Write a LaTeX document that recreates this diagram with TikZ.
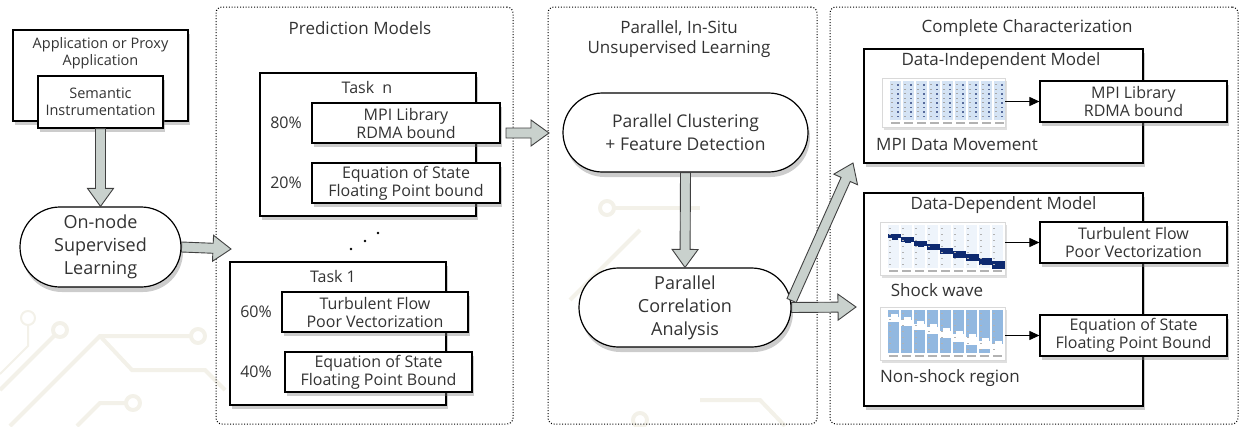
\documentclass[tikz,border=0pt]{standalone}
\usepackage{fontspec}
\setmainfont{Open Sans}
\usetikzlibrary{shapes.misc,shadows,calc,arrows.meta}
\definecolor{arrowgrey}{RGB}{201,209,205}
\definecolor{trace}{RGB}{243,241,233}
\definecolor{navy}{RGB}{14,42,112}
\definecolor{pale}{RGB}{238,244,251}
\definecolor{lightblue}{RGB}{212,227,244}
\definecolor{midblue}{RGB}{146,184,224}

% block arrow between two named points
\newcommand{\fatarrow}[2]{%
  \path ($(#2)!18pt!(#1)$) coordinate (fa head);
  \filldraw[fatline] ($(#1)!5pt!90:(#2)$) -- ($(fa head)!5pt!90:(#2)$)
    -- ($(fa head)!13pt!90:(#2)$) -- (#2) -- ($(fa head)!13pt!-90:(#2)$)
    -- ($(fa head)!5pt!-90:(#2)$) -- ($(#1)!5pt!-90:(#2)$) -- cycle;}

\begin{document}
\begin{tikzpicture}[x=1pt,y=-1pt,
  every node/.style={text=black!80},
  box/.style={draw=black, line width=1.2pt, fill=white, align=center, inner sep=0pt,
    font=\fontsize{16}{18}\selectfont,
    drop shadow={shadow xshift=2pt, shadow yshift=-4pt, opacity=0.4}},
  pill/.style={rounded rectangle, draw=black, line width=1.2pt, fill=white, align=center,
    inner sep=2pt, font=\fontsize{18}{23}\selectfont,
    drop shadow={shadow xshift=2pt, shadow yshift=-5pt, opacity=0.4}},
  group/.style={draw=black, line width=1pt, dash pattern=on 1pt off 1.8pt,
    rounded corners=6pt, inner sep=0pt},
  title/.style={font=\fontsize{17}{20}\selectfont, align=center},
  pct/.style={font=\fontsize{16}{18}\selectfont},
  fatline/.style={fill=arrowgrey, draw=black!75, line width=0.9pt},
  thinarrow/.style={draw=black, line width=1pt, -{Triangle[length=10pt,width=9pt]}},
  tracepath/.style={draw=trace, line width=4pt},
  thumb/.style={draw=black!15, fill=white, inner sep=0pt,
    drop shadow={shadow xshift=2pt, shadow yshift=-3pt, opacity=0.25}},
  mdm/.style={thumb, minimum width=123pt, minimum height=49pt,
    path picture={
      \coordinate (o) at (path picture bounding box.north west);
      \foreach \i in {0,...,8} {
        \fill[lightblue] ($(o)+(8+\i*13,3)$) rectangle ++(11,39);
        \foreach \j in {0,...,7} {
          \fill[navy!70] ($(o)+(15+\i*13,6+\j*4.5)$) rectangle ++(2,1.5);
          \fill[black!35] ($(o)+(9+\i*13,6+\j*4.5)$) rectangle ++(2,1);
        }
        \fill[black!30] ($(o)+(9+\i*13,44)$) rectangle ++(9,2);
      }}},
  shock/.style={thumb, minimum width=125pt, minimum height=53pt,
    path picture={
      \coordinate (o) at (path picture bounding box.north west);
      \foreach \i in {0,...,8} {
        \fill[pale] ($(o)+(8+\i*13,3)$) rectangle ++(11,43);
        \fill[navy] ($(o)+(8+\i*13,12+\i*3.4)$) rectangle ++(13,4+\i*0.5);
        \fill[navy] ($(o)+(12+\i*13,15+\i*3.4)$) rectangle ++(6,3);
        \foreach \j in {0,...,6}
          \fill[black!30] ($(o)+(9+\i*13,6+\j*6)$) rectangle ++(2,1);
        \fill[black!30] ($(o)+(9+\i*13,48)$) rectangle ++(9,2);
      }}},
  nonshock/.style={thumb, minimum width=125pt, minimum height=53pt,
    path picture={
      \coordinate (o) at (path picture bounding box.north west);
      \foreach \i in {0,...,8} {
        \fill[midblue] ($(o)+(8+\i*13,3)$) rectangle ++(11,43);
        \fill[white] ($(o)+(8+\i*13,10+\i*3.4)$) rectangle ++(13,5+\i*0.5);
        \fill[white] ($(o)+(11+\i*13,7+\i*3.4)$) rectangle ++(7,3+\i*0.4);
        \foreach \j in {0,...,6}
          \fill[black!30] ($(o)+(9+\i*13,6+\j*6)$) rectangle ++(2,1);
        \fill[black!30] ($(o)+(9+\i*13,48)$) rectangle ++(9,2);
      }}}]
\useasboundingbox (0,0) rectangle (1243,426);

% faint circuit traces
\draw[tracepath] (10,426) -- (100,336) -- (190,336);
\draw[tracepath] (198,336) circle (7);
\draw[tracepath] (100,336) -- (132,370) -- (205,370) -- (225,390);
\draw[tracepath] (60,330) circle (7);
\draw[tracepath] (55,335) -- (0,390);
\draw[tracepath, line width=2pt] (28,318) circle (7);
\draw[tracepath, line width=2pt] (28,325) -- (28,346) -- (0,374);
\draw[tracepath] (133,403) circle (7);
\draw[tracepath] (126,403) -- (100,403) -- (77,426);
\draw[tracepath] (607,208) circle (7);
\draw[tracepath] (614,208) -- (700,208);
\draw[tracepath] (570,300) -- (640,230);
\draw[tracepath] (1090,60) -- (1120,60);
\draw[tracepath] (700,400) -- (760,400) -- (785,426);
\draw[tracepath] (640,420) circle (7);

% left column
\node[box, minimum width=175pt, minimum height=91pt] (app) at (100.5,75.5) {};
\node[anchor=north, align=center, font=\fontsize{14.5}{17}\selectfont] (app title)
  at ($(app.north)+(0,5)$) {Application or Proxy\\Application};
\node[box, minimum width=125pt, minimum height=52pt, font=\fontsize{14.5}{17}\selectfont]
  (sem) at (100.5,102) {Semantic\\Instrumentation};
\node[pill, minimum width=165pt, minimum height=80pt] (onnode) at (100.5,247)
  {On-node\\Supervised\\Learning};

% prediction models
\node[group, minimum width=297pt, minimum height=417pt] (pred box) at (364.5,215.5) {};
\node[title] (pred title) at (360,28) {Prediction Models};

\node[box, minimum width=216pt, minimum height=143pt] (taskn) at (368,144.5) {};
\node[pct] (taskn title) at (367,87) {Task~~n};
\node[box, minimum width=188pt, minimum height=40pt] (mpin) at (406,123) {MPI Library\\RDMA bound};
\node[box, minimum width=188pt, minimum height=40pt] (eosn) at (406,183) {Equation of State\\Floating Point bound};
\node[pct] (p80) at (286,123) {80\%};
\node[pct] (p20) at (286,183) {20\%};

\fill (378,233) circle (1.3);
\fill (365,241) circle (1.3);
\fill (351,249) circle (1.3);

\node[box, minimum width=216pt, minimum height=143pt] (task1) at (338,333.5) {};
\node[pct] (task1 title) at (333,276) {Task 1};
\node[box, minimum width=186pt, minimum height=40pt] (tf1) at (375,312) {Turbulent Flow\\Poor Vectorization};
\node[box, minimum width=187pt, minimum height=40pt] (eos1) at (378.5,372) {Equation of State\\Floating Point Bound};
\node[pct] (p60) at (256,312) {60\%};
\node[pct] (p40) at (256,372) {40\%};

% unsupervised learning
\node[group, minimum width=269pt, minimum height=417pt] (par box) at (682.5,215.5) {};
\node[title] (par title) at (679,39) {Parallel, In-Situ\\Unsupervised Learning};
\node[pill, minimum width=249pt, minimum height=79pt, font=\fontsize{17.5}{23}\selectfont]
  (clus) at (685.5,132.5) {Parallel Clustering\\+ Feature Detection};
\node[pill, minimum width=216pt, minimum height=79pt] (corr) at (685,307.5)
  {Parallel\\Correlation\\Analysis};

% complete characterization
\node[group, minimum width=408pt, minimum height=417pt] (comp box) at (1034,215.5) {};
\node[title] (comp title) at (1027,28) {Complete Characterization};

\node[box, minimum width=279pt, minimum height=114pt] (indep) at (1003.5,106) {};
\node[title] (indep title) at (1001,61) {Data-Independent Model};
\node[mdm] (mdm img) at (943.5,102.5) {};
\node[title] (mdm cap) at (957,145) {MPI Data Movement};
\node[box, minimum width=187pt, minimum height=41pt] (mpir) at (1133.5,101.5) {MPI Library\\RDMA bound};
\draw[thinarrow] (mdm img.east |- mpir.west) -- (mpir.west);

\node[box, minimum width=279pt, minimum height=213pt] (dep) at (1003.5,299.5) {};
\node[title] (dep title) at (1003.5,205) {Data-Dependent Model};
\node[shock] (shock img) at (942.5,248.5) {};
\node[title] (shock cap) at (937,290) {Shock wave};
\node[box, minimum width=187pt, minimum height=41pt] (tfr) at (1133.5,242.5) {Turbulent Flow\\Poor Vectorization};
\draw[thinarrow] (shock img.east |- tfr.west) -- (tfr.west);
\node[nonshock] (nonshock img) at (942.5,333.5) {};
\node[title] (nonshock cap) at (950,378) {Non-shock region};
\node[box, minimum width=187pt, minimum height=41pt] (eosr) at (1133.5,335.5) {Equation of State\\Floating Point Bound};
\draw[thinarrow] (nonshock img.east |- eosr.west) -- (eosr.west);

% block arrows
\coordinate (pred in) at (231,249);
\coordinate (pred out) at (506,133);
\coordinate (clus in) at (549,133);
\coordinate (corr up) at ($(corr.east)+(0,-7)$);
\coordinate (indep in) at (853,163);
\coordinate (dep in) at (856,307);
\fatarrow{sem.south}{onnode.north}
\fatarrow{onnode.east}{pred in}
\fatarrow{pred out}{clus in}
\fatarrow{clus.south}{corr.north}
\fatarrow{corr up}{indep in}
\fatarrow{corr.east}{dep in}
\end{tikzpicture}
\end{document}
